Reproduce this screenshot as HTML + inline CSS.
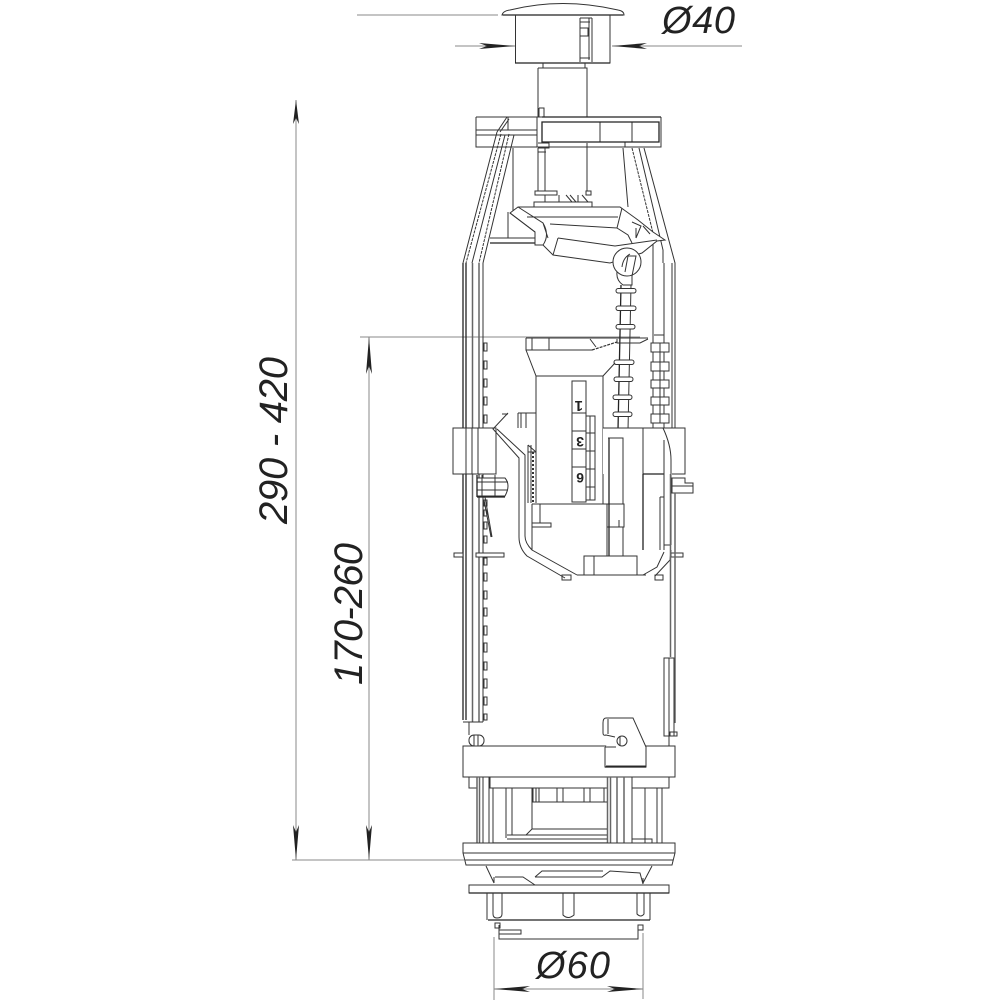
<!DOCTYPE html>
<html><head><meta charset="utf-8"><style>
html,body{margin:0;padding:0;background:#fff}svg{display:block}
text{font-family:"Liberation Sans",sans-serif;font-style:italic;fill:#222}
.l{fill:none;stroke:#333;stroke-width:1}
.t{fill:none;stroke:#222;stroke-width:1.3}
.m{fill:none;stroke:#666;stroke-width:1.5}
.d{fill:none;stroke:#333;stroke-width:1;stroke-dasharray:3 1}
.g{fill:none;stroke:#888;stroke-width:1}
.w{fill:#fff;stroke:#333;stroke-width:1}
.a{fill:#222;stroke:none}
</style></head><body>
<svg width="1000" height="1000" viewBox="0 0 1000 1000" xmlns="http://www.w3.org/2000/svg">
<!-- dimensions -->
<path class="g" d="M357 15H498M455 46H515M612 46H742M296 100V860M292 860H464M369 337V860M360 337H640M494 937V1000M643 933V999M494 989H643"/>
<g class="a">
<path d="M515 46L479 43L487 46L479 49Z"/><path d="M612 46L647 43L639 46L647 49Z"/>
<path d="M296 100L293 124L296 118L299 124Z"/><path d="M296 860L293 825L296 832L299 825Z"/>
<path d="M369 337L366 374L369 366L372 374Z"/><path d="M369 860L366 825L369 832L372 825Z"/>
<path d="M494 989L530 986L522 989L530 992Z"/><path d="M643 989L607 986L615 989L607 992Z"/>
</g>
<text x="662" y="33" font-size="38" textLength="73">Ø40</text>
<text x="536" y="978" font-size="38" textLength="74">Ø60</text>
<text transform="translate(287 524) rotate(-90)" font-size="40" textLength="167">290 - 420</text>
<text transform="translate(362 685) rotate(-90)" font-size="40" textLength="142">170-260</text>

<!-- button -->
<path class="l" d="M502 15Q503 11 510 10Q562 -3 618 10Q624 11 624 15H502Z"/>
<path class="t" d="M503 15H623"/>
<path class="l" d="M515.500 15V63H610V15M580 18V62M592 18V62M580 18H592M580 22H590M580 28H588V36H580M580 58H590M589 18V60"/>
<path class="t" d="M515 63H610"/>
<path class="l" d="M543 63V68H585V63M538 68H587V117M538 68V117"/>

<!-- top frame -->
<path class="l" d="M476 117H542M476 117V147H661V117M476 130H537M476 135H537M508 117V130M537 117V147M539 108H544V117M539 108V117M600 122V142M632 122V142M625 142V147"/>
<path class="t" d="M542 117H661M542 122H659V142H542Z"/>
<path class="l" d="M497 132L507 117M500 132L509 119M538 143H549V148H538M587 143V191M538 148V191M540 148H545V191M538 152H546M513 148V213"/>
<!-- left struts -->
<path class="l" d="M497 132L463 263M505 135L472 263M514 135L483 263M492 135H514"/>
<path class="d" d="M501 134L466 263M509 134L479 263"/>
<path class="t" d="M463 263V720"/>
<path class="t" d="M466 263V720"/>
<path class="m" d="M472.500 263V722M479 263V722"/>
<path class="l" d="M483 263V722M463 722H483"/>
<!-- right struts -->
<path class="l" d="M623 148L628 207M639 148L663 250V263M644 148L675 263V428M653 233V428M664 263V428M672 263V428"/>
<path class="d" d="M632 148L653 233"/>

<!-- pedestal -->
<path class="w" d="M535 191H557V195H535ZM586 191H591V195H586ZM534 202H592V207H534Z"/>
<path class="l" d="M545 195V202M559 195V202M566 195L572 202M570 195L576 202M578 195V202M582 195L588 202"/>

<!-- lever -->
<path class="l" d="M490 238H535M508 212V238"/>
<path class="t" d="M490 243H535"/>
<path class="w" d="M510 213L518 207H620L638 220L653 232L665 240L657 241L642 253L610 263L553 255L543 245L535 245V232Z"/>
<path class="l" d="M527 217H618M550 224L617 228L622 208M617 228L628 235L632 243M518 207L543 223L548 238M510 213L535 232V245M543 223Q550 235 543 245M558 238L615 246L657 240M558 238L553 255M636 228V238M632 222L641 226L636 238M643 226L650 234"/>
<circle class="w" cx="627" cy="262" r="14"/>
<path class="l" d="M617 272Q616 280 623 285H632V276M622 267Q623 258 630 254M625 272L628 256H636L632 276"/>

<!-- rod with discs -->
<path class="t" d="M621 285L618 430"/>
<path class="l" d="M631 285L628 430"/>
<g class="w">
<rect x="616" y="288.500" width="20" height="4.500" rx="2.200"/><rect x="616" y="306" width="20" height="4.500" rx="2.200"/><rect x="616" y="324.500" width="19" height="4.500" rx="2.200"/><rect x="614" y="360" width="20" height="4.500" rx="2.200"/><rect x="614" y="377" width="19" height="4.500" rx="2.200"/><rect x="613" y="395" width="19" height="4.500" rx="2.200"/><rect x="613" y="412" width="19" height="4.500" rx="2.200"/><rect x="612" y="430" width="19" height="4.500" rx="2.200"/>
</g>

<!-- right blocks -->
<path class="l" d="M654 335H664V343"/>
<g class="w">
<rect x="651" y="343" width="18" height="9"/><rect x="651" y="362" width="18" height="9"/><rect x="651" y="380" width="18" height="8"/><rect x="651" y="397" width="18" height="8"/><rect x="651" y="414" width="18" height="9"/>
</g>
<path class="l" d="M660 343V423"/>

<!-- left small rack -->
<g class="w">
<rect x="484" y="343" width="3" height="8"/><rect x="484" y="361" width="3" height="8"/><rect x="484" y="379" width="3" height="8"/><rect x="484" y="397" width="3" height="8"/><rect x="484" y="415" width="3" height="8"/>
<rect x="484" y="500" width="3" height="6"/><rect x="484" y="510" width="3" height="6"/><rect x="484" y="522" width="3" height="7"/><rect x="484" y="536" width="3" height="7"/><rect x="484" y="558" width="3" height="7"/><rect x="484" y="573" width="3" height="8"/><rect x="484" y="591" width="3" height="8"/><rect x="484" y="608" width="3" height="8"/><rect x="484" y="626" width="3" height="9"/><rect x="484" y="643" width="3" height="9"/><rect x="484" y="662" width="3" height="8"/><rect x="484" y="679" width="3" height="9"/><rect x="484" y="697" width="3" height="8"/><rect x="484" y="714" width="3" height="6"/>
</g>

<!-- float body -->
<path class="l" d="M526 338H648M526 338V350H592M526 350L536 376V445M536 376H603V504M603 376L615 363M532 338V350M549 338V350"/>
<path class="d" style="stroke-width:1.200" d="M592 350L617 342"/>
<path class="l" d="M590 339L596 347M617 339V343H640L648 339"/>
<!-- scale -->
<path class="w" d="M572 381H586V502H572Z"/>
<path class="l" d="M572 413H586M572 431H586M572 449H586M572 467H586M586 416H595V500H586M590 416V500M586 433H595M586 451H595M586 469H595M586 487H595"/>
<text transform="translate(583 401) rotate(180)" font-size="15" style="font-style:normal;font-weight:bold">1</text>
<text transform="translate(584 437) rotate(180)" font-size="14" style="font-style:normal;font-weight:bold">3</text>
<text transform="translate(584 473) rotate(180)" font-size="14" style="font-style:normal;font-weight:bold">6</text>

<!-- collars -->
<path class="w" d="M453 428H496V474H453Z"/>
<path class="l" d="M466 428V474M472 428V474M478 428V474"/>
<path class="w" style="stroke:none" d="M603 428H685V474H603Z"/>
<path class="l" d="M603 428H685V474H672M643 428V474"/>
<path class="w" d="M477 478H505Q511 485 505 496H477Z"/>
<path class="l" d="M477 482H508M477 490H508M482 475V497M495 475V497"/>
<path class="t" d="M477 475V497M477 497H505"/>
<path class="l" d="M485 497L492 537M484 500L491 537"/>

<!-- channel -->
<path class="l" d="M518 413H536V428M518 413V428M521 413V428M526 413V428"/>
<path class="l" d="M508 413L493 429L519 458V537Q519 548 527 556L565 578M497 429L525 455V536Q525 543 532 550L577 575M502 414H508"/>
<path class="l" d="M528 445L536 452M528 452H536M528 445V503M536 445V503M531 445V503"/>
<path class="l" style="stroke-width:2;stroke-dasharray:2 2" d="M533 452V503"/>
<!-- mid block -->
<path class="l" d="M532 504H624V527H607M532 504V550M540 504V523M532 523H551V527H532M607 504V556"/>
<path class="t" d="M609 438V556M643 474V550M643 474H664"/>
<path class="l" d="M608 438H623V504M623 527V556M619 520V527"/>
<path class="l" d="M660 497V550M664 497H660M663 428Q671 445 671 460V545M664 440V550M664 545H671"/>
<path class="w" d="M584 556H637V575H584Z"/>
<path class="l" d="M594 556V575M577 575H646M562 575H571V580H562ZM655 575H663V580H655Z"/>
<path class="l" d="M671 550L670 560L655 576M664 552L657 567L643 575"/>
<!-- right clip and small tabs -->
<path class="w" d="M672 478H685V483H693V493H672Z"/>
<path class="l" d="M672 486H693"/>
<path class="w" d="M454 553H463V557H454ZM476 553H504V557H476ZM671 553H683V557H671Z"/>
<!-- right lower rail -->
<path class="m" d="M670.500 474V657M675 493V723"/>
<path class="l" d="M664 658H674V736H664ZM669 658V736M670 736H677V732H670ZM669 736V746M469 722V735"/>

<!-- base -->
<path class="w" d="M463 746H675V777H463Z"/>
<rect class="w" x="469" y="735" width="15" height="11" rx="5"/><path class="l" d="M474 735V746M478 735V746"/>
<path class="w" d="M605 747V767H646V747L633 718H606Q603 718 603 723V733Q603 736 606 735L615 737"/>
<path class="l" d="M605 747H616M608 719V734M606 766H646"/>
<path class="t" d="M605 767H646"/>
<circle class="w" cx="622" cy="741" r="5"/><path class="l" d="M620 736V746"/>

<path class="l" d="M469 777V788H477M490 777V788H607M632 788H669V777M493 788V843M506 788V838M512 788V835M645 788V843M657 788V843M662 788V843M483 777V843M489 777V843M632 777V843"/>
<path class="m" d="M477 777V843M479.500 777V843M607.500 777V843M610.500 777V843M617 777V843M624 777V843"/>
<path class="l" d="M532 788V829M533 788V802H607M536 788V802M539 788V802M557 788V802M563 788V802M584 788V802M590 788V802M604 788V802M526 835L532 829H607M507 835H607M507 839H607M632 839H652V843"/>
<path class="t" d="M493 843H607"/>
<!-- flange -->
<path class="w" d="M463 843H675V853L672 865H466L463 853Z"/>
<path class="l" d="M463 853H675M465 860H673"/>
<path class="l" d="M486 866L494 883M652 866L643 883M495 877H523L535 885M535 877H602L610 871L640 873L643 884M535 877L542 871H603M494 883V877M643 884V878"/>
<path class="w" d="M469 885H669V893H469Z"/>
<path class="t" d="M469 893H669"/>
<path class="l" d="M487 893V920M493 893V914Q493 918 497 918Q502 918 502 914V893M563 893V915Q568 920 574 915V893M637 893V914Q641 918 644 914V893M650 893V920"/>
<path class="t" d="M488 920H650"/>
<path class="l" d="M499 925V939H638V930M495 923H500V928H495ZM638 925H643V930H638ZM499 930H521V934H499Z"/>
</svg>
</body></html>
